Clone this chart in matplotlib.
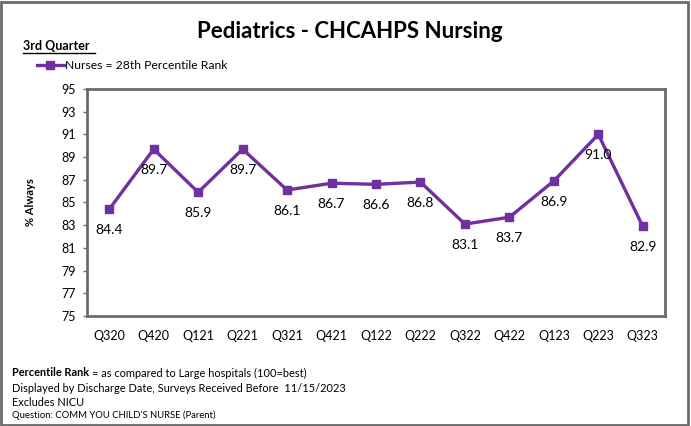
import matplotlib
matplotlib.use("Agg")
import matplotlib.pyplot as plt
from matplotlib.patches import Rectangle

plt.rcParams["font.family"] = ["Lato", "DejaVu Sans"]

quarters = ["Q320", "Q420", "Q121", "Q221", "Q321", "Q421", "Q122",
            "Q222", "Q322", "Q422", "Q123", "Q223", "Q323"]
pct_always = [84.4, 89.7, 85.9, 89.7, 86.1, 86.7, 86.6,
              86.8, 83.1, 83.7, 86.9, 91.0, 82.9]
y_ticks = [75, 77, 79, 81, 83, 85, 87, 89, 91, 93, 95]

purple = "#7030A0"
frame = "#6B6B6B"

fig = plt.figure(figsize=(6.91, 4.26), dpi=100)
W, H = 691, 426

# outer border
fig.patches.append(Rectangle((1 / W, 1 / H), 687 / W, 423 / H, transform=fig.transFigure,
                             fill=False, edgecolor=frame, linewidth=2))

ax = fig.add_axes([87 / W, 1 - 316 / H, (665 - 87) / W, (316 - 89) / H])
x = range(len(quarters))
ax.plot(x, pct_always, color=purple, linewidth=2.4, marker="s", markersize=6,
        label="Nurses = 28th Percentile Rank")
for i, v in zip(x, pct_always):
    ax.annotate(f"{v:.1f}", (i, v), xytext=(0, -15), textcoords="offset points",
                ha="center", va="center", fontsize=10, color="black")

ax.set_xlim(-0.5, len(quarters) - 0.5)
ax.set_ylim(75, 95)
ax.set_yticks(y_ticks)
ax.set_xticks(list(x))
ax.set_xticklabels(quarters)
ax.tick_params(axis="x", length=0, pad=10, labelsize=9)
ax.tick_params(axis="y", length=3, width=1, color=frame, pad=5, labelsize=9)
for s in ax.spines.values():
    s.set_color(frame)
    s.set_linewidth(2)
ax.set_ylabel("% Always", fontsize=8, fontweight="bold", labelpad=18)

ax.legend(loc="upper left", bbox_to_anchor=(37 / W, 1 - 60 / H), bbox_transform=fig.transFigure,
          frameon=False, fontsize=8.7, handlelength=2.2, handletextpad=0.15, borderaxespad=0,
          borderpad=0)

fig.text(350 / W, 1 - 32 / H, "Pediatrics - CHCAHPS Nursing", ha="center", va="center",
         fontsize=16, fontweight="bold")
fig.text(23 / W, 1 - 46 / H, "3rd Quarter", ha="left", va="center", fontsize=9,
         fontweight="bold")
fig.add_artist(plt.Line2D([23 / W, 95 / W], [1 - 53 / H, 1 - 53 / H], color="black",
                          linewidth=1))

# footer notes
fs = 7.9
bold_part = fig.text(12 / W, 1 - 373 / H, "Percentile Rank", ha="left", va="center",
                     fontsize=fs, fontweight="bold")
renderer = fig.canvas.get_renderer()
bb = bold_part.get_window_extent(renderer)
fig.text((bb.x1 + 3) / W, 1 - 373 / H, "= as compared to Large hospitals (100=best)",
         ha="left", va="center", fontsize=fs)
fig.text(12 / W, 1 - 388 / H, "Displayed by Discharge Date, Surveys Received Before  11/15/2023",
         ha="left", va="center", fontsize=fs)
fig.text(12 / W, 1 - 402 / H, "Excludes NICU", ha="left", va="center", fontsize=fs)
fig.text(12 / W, 1 - 415 / H, "Question: COMM YOU CHILD'S NURSE (Parent)", ha="left",
         va="center", fontsize=6.8)

plt.savefig("out.png", dpi=100)
plt.close()
